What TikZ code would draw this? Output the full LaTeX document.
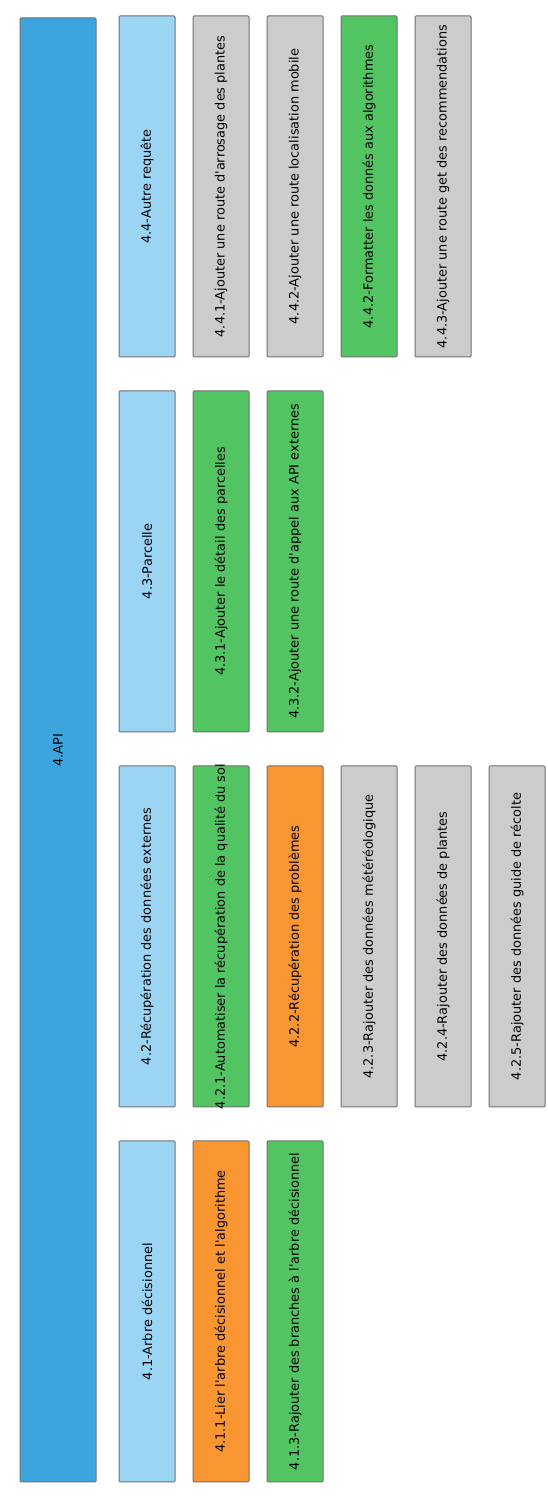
\documentclass[tikz,border=0pt]{standalone}
\usepackage{fontspec}
\setmainfont{DejaVu Sans}[Ligatures=TeXOff]
\usepackage{xcolor}
\usepackage{graphicx}
\usetikzlibrary{positioning}
\definecolor{apiblue}{HTML}{3DA5DE}
\definecolor{phaseblue}{HTML}{9CD4F4}
\definecolor{todogray}{HTML}{CCCCCC}
\definecolor{donegreen}{HTML}{53C462}
\definecolor{doingorange}{HTML}{FA9632}
\definecolor{wbsborder}{HTML}{707070}
\tikzset{
    wbsbox/.style={draw=wbsborder, line width=1pt, rounded corners=1pt, inner sep=0pt, outer sep=0pt, minimum width=56pt, minimum height=341pt, font=\fontsize{12.9}{15}\selectfont},
    wbsroot/.style={wbsbox, fill=apiblue, minimum width=76pt, minimum height=1464pt},
    wbsphase/.style={wbsbox, fill=phaseblue},
    wbstodo/.style={wbsbox, fill=todogray},
    wbsdone/.style={wbsbox, fill=donegreen},
    wbsdoing/.style={wbsbox, fill=doingorange}
}

\begin{document}
\begin{tikzpicture}[node distance=34pt and 18pt]
    \useasboundingbox (0,0) rectangle (548pt,1502pt);
    \node[wbsroot] (api) at (58pt,752pt) {\rotatebox{90}{4.API}};

    \node[wbsphase] (req) at (147pt,1315.5pt) {\rotatebox{90}{4.4-Autre requête}};
    \node[wbsphase, below=of req] (parcelle) {\rotatebox{90}{4.3-Parcelle}};
    \node[wbsphase, below=of parcelle] (externes) {\rotatebox{90}{4.2-Récupération des données externes}};
    \node[wbsphase, below=of externes] (arbre) {\rotatebox{90}{4.1-Arbre décisionnel}};

    \node[wbstodo, right=of req] (arrosage) {\rotatebox{90}{4.4.1-Ajouter une route d'arrosage des plantes}};
    \node[wbstodo, right=of arrosage] (mobile) {\rotatebox{90}{4.4.2-Ajouter une route localisation mobile}};
    \node[wbsdone, right=of mobile] (formatter) {\rotatebox{90}{4.4.2-Formatter les donnés aux algorithmes}};
    \node[wbstodo, right=of formatter] (recos) {\rotatebox{90}{4.4.3-Ajouter une route get des recommendations}};

    \node[wbsdone, right=of parcelle] (detail) {\rotatebox{90}{4.3.1-Ajouter le détail des parcelles}};
    \node[wbsdone, right=of detail] (appel) {\rotatebox{90}{4.3.2-Ajouter une route d'appel aux API externes}};

    % text is longer than the box here, keep the box height
    \node[wbsdone, right=of externes] (sol) {\rotatebox{90}{\makebox[336pt]{4.2.1-Automatiser la récupération de la qualité du sol}}};
    \node[wbsdoing, right=of sol] (problemes) {\rotatebox{90}{4.2.2-Récupération des problèmes}};
    \node[wbstodo, right=of problemes] (meteo) {\rotatebox{90}{4.2.3-Rajouter des données météréologique}};
    \node[wbstodo, right=of meteo] (plantes) {\rotatebox{90}{4.2.4-Rajouter des données de plantes}};
    \node[wbstodo, right=of plantes] (recolte) {\rotatebox{90}{4.2.5-Rajouter des données guide de récolte}};

    \node[wbsdoing, right=of arbre] (lier) {\rotatebox{90}{4.1.1-Lier l'arbre décisionnel et l'algorithme}};
    \node[wbsdone, right=of lier] (branches) {\rotatebox{90}{4.1.3-Rajouter des branches à l'arbre décisionnel}};
\end{tikzpicture}
\end{document}
